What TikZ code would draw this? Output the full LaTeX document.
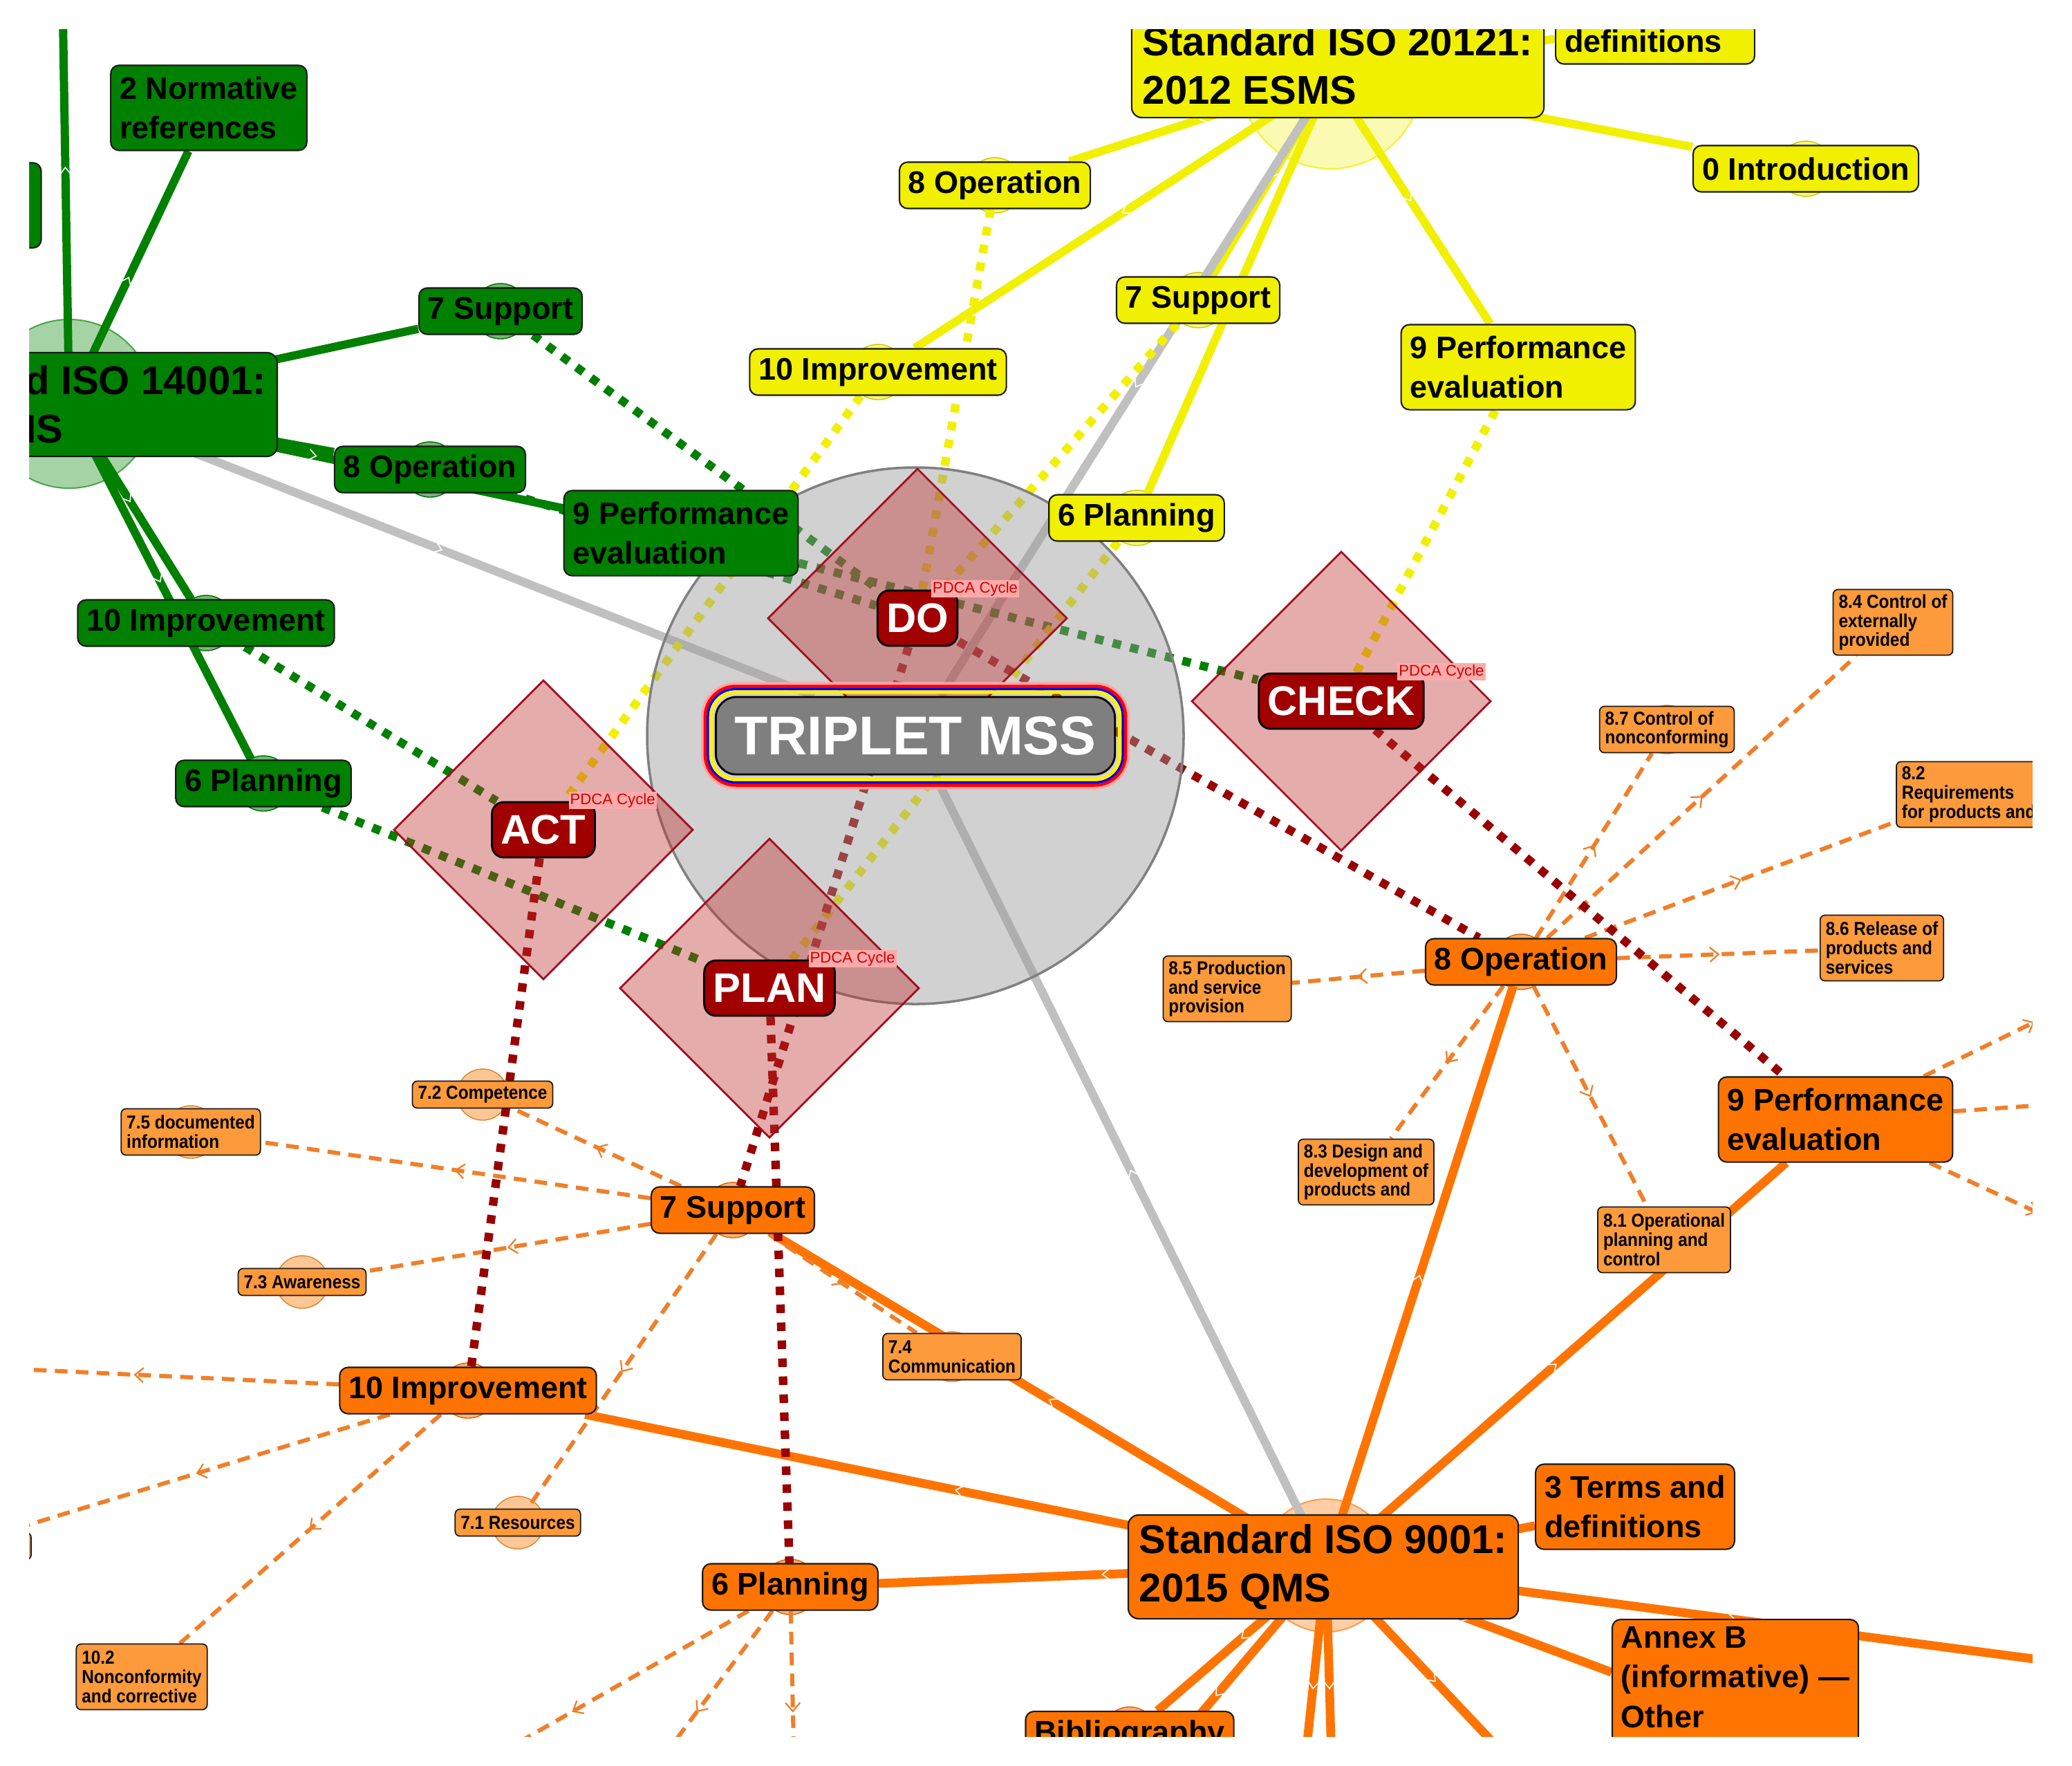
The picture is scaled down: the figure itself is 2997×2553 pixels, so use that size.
\documentclass[tikz,border=0pt]{standalone}
\usepackage{fontspec}
\setmainfont{Liberation Sans}
\newfontfamily\NarrowLS[FakeStretch=0.9]{Liberation Sans}
\usetikzlibrary{calc,decorations.markings}
\pgfdeclarelayer{bgwhite}
\pgfdeclarelayer{hubs}
\pgfdeclarelayer{edges}
\pgfdeclarelayer{veil}
\pgfdeclarelayer{frame}
\pgfsetlayers{bgwhite,hubs,edges,veil,main,frame}
\newcommand\FBig{\fontsize{16.5}{19.9}\selectfont\bfseries}
\newcommand\FMed{\fontsize{12.8}{16.4}\selectfont\bfseries}
\newcommand\FSm{\NarrowLS\fontsize{7.7}{7.9}\selectfont\bfseries}
\newcommand\FPd{\fontsize{17}{20}\selectfont\bfseries}
\newcommand\FTr{\fontsize{22.5}{27}\selectfont\bfseries}
\newcommand\FCy{\fontsize{6.3}{7.5}\selectfont}
\definecolor{gfill}{HTML}{008000}
\definecolor{yfill}{HTML}{F0F000}
\definecolor{ofill}{HTML}{FF7400}
\definecolor{sfill}{HTML}{FC9A3C}
\definecolor{dashc}{HTML}{F07F2A}
\definecolor{redd}{HTML}{990000}
\definecolor{lblc}{HTML}{A00000}
\definecolor{grayl}{HTML}{C0C0C0}
\definecolor{circf}{HTML}{999999}
\definecolor{cborder}{HTML}{808080}
\definecolor{diamf}{HTML}{C03030}
\definecolor{diamb}{HTML}{A01020}
\definecolor{cycbg}{HTML}{FFAAAA}
\definecolor{cyctx}{HTML}{CC0000}
\definecolor{nodeb}{HTML}{1A1A1A}
\definecolor{tripf}{HTML}{7F7F7F}
\tikzset{
  nb/.style={draw=nodeb, line width=0.6pt, align=left, inner ysep=0.02cm},
  bigbox/.style={nb, font=\FBig, rounded corners=0.15cm, inner xsep=0.16cm, minimum height=1.5cm},
  medone/.style={nb, font=\FMed, rounded corners=0.12cm, inner xsep=0.13cm, minimum height=0.67cm},
  medtwo/.style={medone, minimum height=1.23cm},
  smone/.style={nb, font=\FSm, fill=sfill, rounded corners=0.07cm, inner xsep=0.08cm, minimum height=0.39cm, line width=0.5pt},
  smtwo/.style={smone, minimum height=0.67cm},
  smthree/.style={smone, minimum height=0.95cm},
  gfillst/.style={fill=gfill},
  yfillst/.style={fill=yfill},
  ofillst/.style={fill=ofill},
  pdca/.style={fill=lblc, draw=black, line width=0.8pt, text=white, font=\FPd, rounded corners=0.17cm, inner xsep=0.13cm, inner ysep=0cm, minimum height=0.8cm},
  cyc/.style={fill=cycbg, text=cyctx, font=\FCy, inner xsep=0.02cm, inner ysep=0.02cm},
  solidl/.style={line width=3.4pt, postaction={decorate, decoration={markings, mark=at position 0.5 with {\draw[white, line width=0.45pt, solid] (-3pt,-2.3pt) -- (0pt,0pt) -- (-3pt,2.3pt);}}}},
  grayln/.style={grayl, line width=3.5pt, postaction={decorate, decoration={markings, mark=at position 0.5 with {\draw[white, line width=0.45pt, solid] (-3pt,-2.3pt) -- (0pt,0pt) -- (-3pt,2.3pt);}}}},
  dashl/.style={dashc, line width=1.7pt, dash pattern=on 5.2pt off 3.4pt, postaction={decorate, decoration={markings, mark=at position 0.5 with {\draw[dashc, line width=0.65pt, solid] (-3.5pt,-3pt) -- (0pt,0pt) -- (-3.5pt,3pt);}}}},
  pdcal/.style={line width=3.5pt, dash pattern=on 3.5pt off 3.9pt},
}
\begin{document}
\begin{tikzpicture}[x=0.01cm, y=-0.01cm]
\useasboundingbox (0,0) rectangle (2997,2553);
\begin{pgfonlayer}{bgwhite}
\fill[white] (0,0) rectangle (2997,2553);
\end{pgfonlayer}
% hub coordinates and off-picture ends
\coordinate (GH) at (100,584);
\coordinate (YH) at (1925,112);
\coordinate (OH) at (1918,2264);
\coordinate (GU) at (89,-100);
\coordinate (OR) at (3100,2420);
\coordinate (OD2) at (1600,2640);
\coordinate (OD3) at (1880,2620);
\coordinate (OD4) at (1928,2620);
\coordinate (OD5) at (2235,2600);
\coordinate (R1) at (3100,1401);
\coordinate (R2) at (3100,1588);
\coordinate (R3) at (3100,1824);
\coordinate (L1) at (-100,1974);
\coordinate (B1) at (1150,2620);
\coordinate (B2) at (900,2620);
\coordinate (B3) at (575,2620);
% ---------- green nodes
\node[bigbox, gfillst, anchor=east] (G0) at (402,585) {Standard ISO 14001:\\2015 EMS};
\node[medtwo, gfillst, minimum width=2.59cm] (Gleft) at (-70,297) {};
\node[medtwo, gfillst] (G2) at (302,156) {2 Normative\\references};
\node[medone, gfillst] (G7) at (724,450) {7 Support};
\node[medone, gfillst] (G8) at (622,679) {8 Operation};
\node[medtwo, gfillst] (G9) at (985,771) {9 Performance\\evaluation};
\node[medone, gfillst] (G10) at (298,901) {10 Improvement};
\node[medone, gfillst] (G6) at (381,1133) {6 Planning};
% ---------- yellow nodes
\node[bigbox, yfillst] (Y0) at (1935,95) {Standard ISO 20121:\\2012 ESMS};
\node[medtwo, yfillst, anchor=west] (Ydef) at (2249,31) {3 Terms and\\definitions};
\node[medone, yfillst] (Yin) at (2612,244) {0 Introduction};
\node[medone, yfillst] (Y8) at (1439,268) {8 Operation};
\node[medone, yfillst] (Y7) at (1733,434) {7 Support};
\node[medone, yfillst] (Y10) at (1270,538) {10 Improvement};
\node[medone, yfillst] (Y6) at (1644,749) {6 Planning};
\node[medtwo, yfillst] (Y9) at (2196,531) {9 Performance\\evaluation};
% ---------- orange nodes
\node[bigbox, ofillst] (O0) at (1914,2266) {Standard ISO 9001:\\2015 QMS};
\node[medtwo, ofillst] (O3) at (2365,2179) {3 Terms and\\definitions};
\node[medone, ofillst, anchor=north, inner ysep=0.1cm, text depth=1.2cm] (OA) at (2510,2341) {Annex B\\(informative) —\\Other};
\node[medone, ofillst, anchor=north] (OBib) at (1634,2474) {Bibliography};
\node[medone, ofillst] (O6) at (1143,2295) {6 Planning};
\node[medone, ofillst] (O7) at (1060,1750) {7 Support};
\node[medone, ofillst] (O10) at (677,2011) {10 Improvement};
\node[medone, ofillst] (O8) at (2200,1391) {8 Operation};
\node[medtwo, ofillst] (O9) at (2655,1619) {9 Performance\\evaluation};
% ---------- small nodes
\node[smthree] (S84) at (2738,900) {8.4 Control of\\externally\\provided};
\node[smtwo] (S87) at (2411,1055) {8.7 Control of\\nonconforming};
\node[smthree, anchor=west] (S82) at (2742,1149) {8.2\\Requirements\\for products and};
\node[smthree] (S86) at (2722,1371) {8.6 Release of\\products and\\services};
\node[smthree] (S85) at (1775,1430) {8.5 Production\\and service\\provision};
\node[smthree] (S83) at (1976,1695) {8.3 Design and\\development of\\products and};
\node[smthree] (S81) at (2407,1793) {8.1 Operational\\planning and\\control};
\node[smone] (S72) at (698,1583) {7.2 Competence};
\node[smtwo] (S75) at (276,1637) {7.5 documented\\information};
\node[smone] (S73) at (437,1854) {7.3 Awareness};
\node[smone] (S71) at (749,2202) {7.1 Resources};
\node[smtwo] (S74) at (1377,1962) {7.4\\Communication};
\node[smthree] (S102) at (205,2425) {10.2\\Nonconformity\\and corrective};
\node[smone, minimum width=2.1cm] (SL) at (-60,2236) {};
% ---------- centre
\node[draw=black, line width=0.8pt, fill=tripf, text=white, font=\FTr, rounded corners=0.3cm, minimum width=5.77cm, minimum height=1.12cm, inner sep=0pt] (TRIP) at (1324,1064) {TRIPLET MSS};
\draw[red!35, line width=1.2pt, rounded corners=0.48cm] ($(TRIP.south west)+(-18,18)$) rectangle ($(TRIP.north east)+(18,-18)$);
\draw[red, line width=1.3pt, rounded corners=0.44cm] ($(TRIP.south west)+(-14,14)$) rectangle ($(TRIP.north east)+(14,-14)$);
\draw[blue, line width=1pt, rounded corners=0.4cm] ($(TRIP.south west)+(-10,10)$) rectangle ($(TRIP.north east)+(10,-10)$);
\draw[yellow, line width=1.5pt, rounded corners=0.35cm] ($(TRIP.south west)+(-5.5,5.5)$) rectangle ($(TRIP.north east)+(5.5,-5.5)$);
% ---------- PDCA labels
\node[pdca] (DO) at (1327,894) {DO};
\node[pdca] (ACT) at (786,1200) {ACT};
\node[pdca] (PLAN) at (1113,1429) {PLAN};
\node[pdca] (CHECK) at (1940,1014) {CHECK};
\foreach \n in {DO,ACT,PLAN,CHECK}
  \node[cyc, anchor=north west] (\n c) at ($(\n.north east)+(-40,-14)$) {PDCA Cycle};
% ---------- hubs and bumps
\begin{pgfonlayer}{hubs}
\filldraw[fill=gfill!35, draw=gfill!70, line width=0.6pt] (GH) circle (122);
\filldraw[fill=yfill!30, draw=yfill!80, line width=0.6pt] (YH) circle (132);
\filldraw[fill=ofill!35, draw=ofill!70, line width=0.6pt] (OH) circle (96);
\foreach \n/\c/\r in {G7/gfill/40,G8/gfill/40,G10/gfill/40,G6/gfill/40,
  Y8/yfill/40,Y10/yfill/40,Y7/yfill/40,Y6/yfill/40,Yin/yfill/40,
  O8/ofill/40,O6/ofill/40,O7/ofill/40,O10/ofill/40,OBib/ofill/40,
  S72/sfill/37,S75/sfill/38,S73/sfill/38,S71/sfill/38,S74/sfill/36,S87/sfill/35}
  \filldraw[fill=\c!55, draw=\c!85!black, line width=0.4pt] (\n) circle (\r);
\end{pgfonlayer}
% ---------- edges
\begin{pgfonlayer}{edges}
\foreach \tg in {GU,G2,G7,G8,G9,G10,G6} \draw[solidl, gfill] (GH) -- (\tg);
\foreach \tg in {Y8,Y10,Y7,Y6,Y9,Yin,Ydef} \draw[solidl, yfill] (YH) -- (\tg);
\foreach \tg in {O6,O7,O10,O8,O9,O3,OA,OR,OBib,OD2,OD3,OD4,OD5} \draw[solidl, ofill, line width=3.6pt] (OH) -- (\tg);
\foreach \tg in {GH,YH,OH} \draw[grayln] (\tg) -- (TRIP);
\foreach \tg in {S84,S87,S82,S86,S85,S83,S81} \draw[dashl] (O8) -- (\tg);
\foreach \tg in {R1,R2,R3} \draw[dashl] (O9) -- (\tg);
\foreach \tg in {S72,S75,S73,S71,S74} \draw[dashl] (O7) -- (\tg);
\foreach \tg in {L1,SL,S102} \draw[dashl] (O10) -- (\tg);
\foreach \tg in {B1,B2,B3} \draw[dashl] (O6) -- (\tg);
% PDCA dotted links
\draw[pdcal, gfill] (G6) -- (PLAN);
\draw[pdcal, gfill] (G7) -- (DO);
\draw[pdcal, gfill] (G8) -- (DO);
\draw[pdcal, gfill] (G9) -- (CHECK);
\draw[pdcal, gfill] (G10) -- (ACT);
\draw[pdcal, yfill] (Y6) -- (PLAN);
\draw[pdcal, yfill] (Y7) -- (DO);
\draw[pdcal, yfill] (Y8) -- (DO);
\draw[pdcal, yfill] (Y9) -- (CHECK);
\draw[pdcal, yfill] (Y10) -- (ACT);
\draw[pdcal, redd] (PLAN) -- (O6);
\draw[pdcal, redd] (DO) -- (O7);
\draw[pdcal, redd] (DO) -- (O8);
\draw[pdcal, redd] (CHECK) -- (O9);
\draw[pdcal, redd] (ACT) -- (O10);
\end{pgfonlayer}
% ---------- translucent circle and diamonds
\begin{pgfonlayer}{veil}
\fill[circf, fill opacity=0.45] (TRIP) circle (388);
\draw[cborder, line width=1pt] (TRIP) circle (388);
\foreach \n in {DO,ACT,PLAN,CHECK}
  \filldraw[fill=diamf, fill opacity=0.4, draw=diamb, line width=0.8pt]
    ($(\n)+(0,-216)$) -- ($(\n)+(216,0)$) -- ($(\n)+(0,216)$) -- ($(\n)+(-216,0)$) -- cycle;
\end{pgfonlayer}
% ---------- white frame
\begin{pgfonlayer}{frame}
\fill[white, even odd rule] (-400,-400) rectangle (3400,3000) (42,42) rectangle (2940,2512);
\end{pgfonlayer}
\end{tikzpicture}
\end{document}
